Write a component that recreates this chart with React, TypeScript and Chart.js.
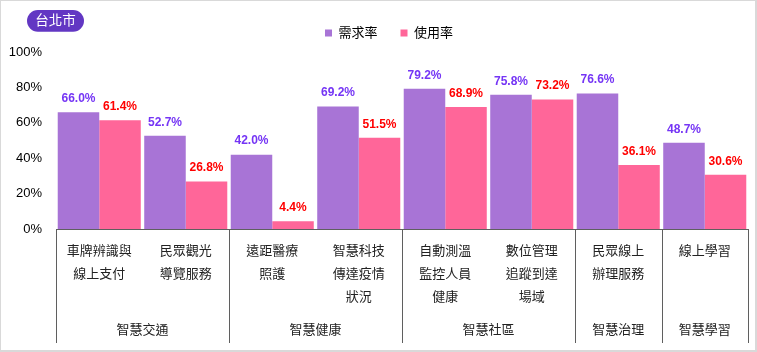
import React, { useEffect, useRef } from 'react';
import { Chart, registerables } from 'chart.js';

Chart.register(...registerables);

const categories: string[][] = [
  ['車牌辨識與', '線上支付'],
  ['民眾觀光', '導覽服務'],
  ['遠距醫療', '照護'],
  ['智慧科技', '傳達疫情', '狀況'],
  ['自動測溫', '監控人員', '健康'],
  ['數位管理', '追蹤到達', '場域'],
  ['民眾線上', '辦理服務'],
  ['線上學習'],
];
const groupNames = ['智慧交通', '智慧健康', '智慧社區', '智慧治理', '智慧學習'];
const groupSizes = [2, 2, 2, 1, 1];
const seriesNames = ['需求率', '使用率'];
const demand = [66.0, 52.7, 42.0, 69.2, 79.2, 75.8, 76.6, 48.7];
const usage = [61.4, 26.8, 4.4, 51.5, 68.9, 73.2, 36.1, 30.6];
const yMin = 0;
const yMax = 100;
const yStep = 20;
const badgeText = '台北市';

const FONT = "'Liberation Sans', 'Noto Sans CJK TC', sans-serif";
const PURPLE = '#a874d6';
const PINK = '#ff6699';
const PURPLE_LABEL = '#7535f5';
const RED_LABEL = '#ff0000';
const LINE = '#5f5f5f';

const decor = {
  id: 'decor',
  beforeLayout(chart: any) {
    const lg = chart.legend;
    if (lg && !lg.__patched) {
      const orig = lg.fit;
      lg.fit = function () {
        orig.call(this);
        if (this.height > 0) this.height += 2.5;
      };
      lg.__patched = true;
    }
  },
  afterLayout(chart: any) {
    const lg = chart.legend;
    if (lg) {
      lg.left += 14.5;
      lg.right += 14.5;
    }
  },
  afterDatasetsDraw(chart: any) {
    const ctx = chart.ctx;
    ctx.save();
    ctx.font = `bold 12px ${FONT}`;
    ctx.textAlign = 'center';
    ctx.textBaseline = 'middle';
    chart.data.datasets.forEach((ds: any, di: number) => {
      const meta = chart.getDatasetMeta(di);
      ctx.fillStyle = di === 0 ? PURPLE_LABEL : RED_LABEL;
      meta.data.forEach((el: any, i: number) => {
        const v = ds.data[i] as number;
        ctx.fillText(v.toFixed(1) + '%', el.x, el.y - 13.5);
      });
    });
    ctx.restore();
  },
  afterDraw(chart: any) {
    const ctx = chart.ctx;
    const area = chart.chartArea;
    const n = categories.length;
    const w = (area.right - area.left) / n;
    ctx.save();
    ctx.strokeStyle = LINE;
    ctx.lineWidth = 1;
    let cum = 0;
    const bounds = [0];
    groupSizes.forEach((s) => {
      cum += s;
      bounds.push(cum);
    });
    bounds.forEach((b) => {
      const x = Math.round(area.left + b * w) + 0.5;
      ctx.beginPath();
      ctx.moveTo(x, area.bottom);
      ctx.lineTo(x, area.bottom + 114);
      ctx.stroke();
    });
    ctx.font = `13px ${FONT}`;
    ctx.fillStyle = '#222';
    ctx.textAlign = 'center';
    ctx.textBaseline = 'middle';
    groupNames.forEach((g, i) => {
      const cx = area.left + ((bounds[i] + bounds[i + 1]) / 2) * w;
      ctx.fillText(g, cx, area.bottom + 101.7);
    });
    const bx = 26, by = 9, bw = 57, bh = 21.7, r = bh / 2;
    ctx.fillStyle = '#6237c3';
    ctx.beginPath();
    ctx.moveTo(bx + r, by);
    ctx.lineTo(bx + bw - r, by);
    ctx.arc(bx + bw - r, by + r, r, -Math.PI / 2, Math.PI / 2);
    ctx.lineTo(bx + r, by + bh);
    ctx.arc(bx + r, by + r, r, Math.PI / 2, (3 * Math.PI) / 2);
    ctx.closePath();
    ctx.fill();
    ctx.fillStyle = '#fff';
    ctx.font = `13.5px ${FONT}`;
    ctx.fillText(badgeText, bx + bw / 2, by + bh / 2 + 0.5);
    ctx.restore();
  },
};

export default function App() {
  const ref = useRef<HTMLCanvasElement>(null);
  useEffect(() => {
    document.body.style.margin = '0';
    const chart = new Chart(ref.current as HTMLCanvasElement, {
      type: 'bar',
      data: {
        labels: categories,
        datasets: [
          { label: seriesNames[0], data: demand, backgroundColor: PURPLE, borderWidth: 0 },
          { label: seriesNames[1], data: usage, backgroundColor: PINK, borderWidth: 0 },
        ],
      },
      options: {
        responsive: false,
        animation: false,
        layout: { padding: { top: 2.5, left: 0, right: 7, bottom: 0 } },
        datasets: { bar: { barPercentage: 1, categoryPercentage: 0.96 } },
        plugins: {
          legend: {
            display: true,
            position: 'top',
            align: 'center',
            labels: {
              boxWidth: 7,
              boxHeight: 7,
              padding: 23,
              color: '#000',
              font: { family: FONT, size: 13 },
            },
          },
          tooltip: { enabled: false },
        },
        scales: {
          x: {
            grid: { display: false, drawTicks: false },
            border: { display: true, color: LINE, width: 1 },
            ticks: {
              autoSkip: false,
              maxRotation: 0,
              minRotation: 0,
              padding: 11,
              color: '#222',
              font: { family: FONT, size: 13, lineHeight: '23px' },
            },
            afterFit: (s: any) => {
              s.height = 121;
            },
          },
          y: {
            min: yMin,
            max: yMax,
            grid: { display: false, drawTicks: false },
            border: { display: false },
            ticks: {
              stepSize: yStep,
              padding: 14,
              color: '#000',
              font: { family: FONT, size: 13 },
              callback: (v: any) => v + '%',
            },
            afterFit: (s: any) => {
              s.width = 55;
            },
          },
        },
      },
      plugins: [decor],
    } as any);
    return () => chart.destroy();
  }, []);
  return (
    <div
      style={{
        width: 757,
        height: 352,
        boxSizing: 'border-box',
        borderStyle: 'solid',
        borderColor: '#d9d9d9',
        borderWidth: '1px 2px 2px 1px',
        background: '#fff',
      }}
    >
      <canvas ref={ref} width={754} height={349} style={{ display: 'block' }} />
    </div>
  );
}
